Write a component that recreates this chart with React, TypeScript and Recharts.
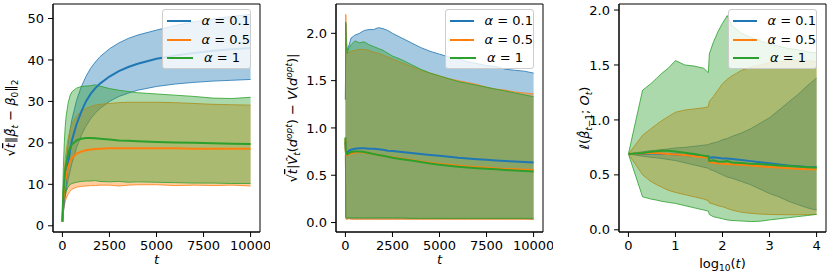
import React from 'react';
import { ComposedChart, Area, Line, XAxis, YAxis, ReferenceArea, Legend } from 'recharts';

const FONT = '"DejaVu Sans", sans-serif';
const ALPHA_LABELS = ['0.1', '0.5', '1'];
const COLORS = ['#1f77b4', '#ff7f0e', '#2ca02c'];

// panel 1: sqrt(t) * ||beta_bar_t - beta_0||_2 against t
const normT = [0, 25, 50, 100, 150, 200, 300, 400, 500, 750, 1000, 1250, 1500, 1750, 2000, 2500, 3000, 3500, 4000, 5000, 6000, 7000, 8000, 9000, 10000];
const normMeanA01 = [1, 3, 4.5, 7, 9, 11.5, 15, 18, 20.5, 24.5, 27.5, 30, 31.8, 33.2, 34.3, 36, 37.3, 38.3, 39.1, 40.3, 41.1, 41.7, 42.2, 42.6, 42.9];
const normHighA01 = [1, 3.5, 5.5, 9, 12, 15, 19.5, 23, 25.5, 30.2, 33.5, 36, 38, 39.5, 40.8, 42.7, 44.1, 45.2, 46, 47.2, 48.3, 49.2, 49.9, 50.5, 51];
const normLowA01 = [1, 2.5, 3.8, 5.5, 7, 8.5, 11, 13, 15, 18.8, 21.8, 24, 25.8, 27.2, 28.3, 30, 31.2, 32, 32.7, 33.6, 34.2, 34.6, 34.9, 35.1, 35.3];
const normMeanA05 = [1, 4, 6, 8.5, 10.5, 12, 14, 15.4, 16.3, 17.4, 17.9, 18.2, 18.4, 18.5, 18.6, 18.7, 18.7, 18.7, 18.7, 18.7, 18.7, 18.6, 18.6, 18.6, 18.6];
const normHighA05 = [1, 6, 9, 13, 16, 18, 21, 23, 24.5, 26.5, 27.6, 28.3, 28.8, 29.1, 29.3, 29.5, 29.7, 29.8, 29.8, 29.8, 29.7, 29.5, 29.3, 29.2, 29.1];
const normLowA05 = [1, 2.5, 3.5, 4.8, 5.8, 6.6, 7.6, 8.3, 8.8, 9.3, 9.5, 9.6, 9.7, 9.7, 9.8, 9.8, 9.6, 9.8, 9.9, 9.9, 9.7, 9.8, 9.7, 9.8, 9.6];
const normMeanA1 = [1, 5, 7.5, 11, 13.5, 15, 17.3, 18.7, 19.6, 20.6, 21, 21.2, 21.2, 21.1, 21, 20.8, 20.6, 20.5, 20.4, 20.2, 20.1, 20, 19.9, 19.8, 19.7];
const normHighA1 = [1, 9, 14, 20, 24, 26.5, 29.5, 31.3, 32.3, 33.2, 33.6, 33.7, 33.8, 34, 33.7, 33.1, 32.7, 32.4, 32.1, 31.8, 31.5, 31.2, 30.8, 30.7, 31];
const normLowA1 = [1, 3, 4.5, 6.3, 7.5, 8.3, 9.3, 9.9, 10.2, 10.5, 10.7, 10.8, 10.8, 10.9, 10.7, 10.6, 10.7, 10.5, 10.6, 10.5, 10.4, 10.3, 10.3, 10.2, 10.2];

// panel 2: sqrt(t) * |V_hat_t(d_opt) - V(d_opt)| against t
const valueT = [0, 20, 50, 100, 200, 300, 500, 750, 1000, 1250, 1500, 1750, 2000, 2250, 2500, 3000, 3500, 4000, 4500, 5000, 5500, 6000, 6500, 7000, 7500, 8000, 8500, 9000, 9500, 10000];
const valueMeanA01 = [0.85, 0.78, 0.74, 0.74, 0.76, 0.77, 0.78, 0.785, 0.785, 0.78, 0.78, 0.775, 0.77, 0.76, 0.755, 0.745, 0.735, 0.725, 0.715, 0.705, 0.695, 0.685, 0.678, 0.67, 0.663, 0.656, 0.65, 0.645, 0.64, 0.634];
const valueHighA01 = [1.3, 2.1, 1.95, 1.82, 1.88, 1.95, 1.98, 2.0, 2.03, 2.04, 2.04, 2.06, 2.05, 2.03, 2.0, 1.95, 1.9, 1.85, 1.81, 1.78, 1.75, 1.73, 1.7, 1.68, 1.66, 1.65, 1.62, 1.61, 1.6, 1.58];
const valueLowA01 = [0.72, 0.05, 0.04, 0.04, 0.045, 0.04, 0.04, 0.04, 0.04, 0.04, 0.04, 0.04, 0.04, 0.04, 0.04, 0.04, 0.04, 0.04, 0.04, 0.04, 0.04, 0.04, 0.04, 0.04, 0.04, 0.04, 0.04, 0.04, 0.04, 0.035];
const valueMeanA05 = [0.88, 0.75, 0.72, 0.71, 0.72, 0.73, 0.74, 0.745, 0.74, 0.735, 0.725, 0.715, 0.705, 0.695, 0.69, 0.675, 0.66, 0.645, 0.632, 0.62, 0.61, 0.6, 0.592, 0.585, 0.578, 0.572, 0.567, 0.562, 0.558, 0.555];
const valueHighA05 = [1.3, 2.2, 1.9, 1.78, 1.8, 1.81, 1.82, 1.83, 1.83, 1.82, 1.8, 1.79, 1.77, 1.75, 1.73, 1.69, 1.65, 1.61, 1.58, 1.55, 1.52, 1.5, 1.48, 1.46, 1.43, 1.41, 1.4, 1.38, 1.37, 1.36];
const valueLowA05 = [0.7, 0.04, 0.035, 0.035, 0.04, 0.035, 0.035, 0.035, 0.035, 0.035, 0.035, 0.035, 0.035, 0.035, 0.035, 0.035, 0.035, 0.035, 0.035, 0.035, 0.035, 0.035, 0.035, 0.035, 0.035, 0.035, 0.035, 0.035, 0.035, 0.035];
const valueMeanA1 = [0.9, 0.76, 0.73, 0.72, 0.735, 0.745, 0.75, 0.75, 0.745, 0.735, 0.725, 0.715, 0.705, 0.695, 0.685, 0.67, 0.655, 0.64, 0.625, 0.612, 0.6, 0.59, 0.582, 0.575, 0.568, 0.562, 0.556, 0.55, 0.545, 0.54];
const valueHighA1 = [1.3, 2.12, 1.85, 1.79, 1.85, 1.88, 1.92, 1.9, 1.91, 1.88, 1.86, 1.84, 1.82, 1.79, 1.76, 1.72, 1.67, 1.62, 1.58, 1.55, 1.52, 1.49, 1.47, 1.45, 1.43, 1.41, 1.39, 1.37, 1.35, 1.33];
const valueLowA1 = [0.75, 0.06, 0.05, 0.05, 0.05, 0.05, 0.05, 0.05, 0.05, 0.05, 0.05, 0.05, 0.05, 0.05, 0.05, 0.05, 0.045, 0.045, 0.045, 0.045, 0.045, 0.045, 0.045, 0.045, 0.045, 0.045, 0.045, 0.045, 0.045, 0.045];

// panel 3: loss l(beta_hat_{t-1}; O_t) against log10(t)
const lossLogT = [0, 0.301, 0.477, 0.602, 0.699, 0.845, 1, 1.2, 1.4, 1.6, 1.7, 1.72, 1.8, 1.9, 2, 2.1, 2.2, 2.4, 2.6, 2.8, 3, 3.2, 3.4, 3.6, 3.8, 4];
const lossMeanA01 = [0.69, 0.69, 0.695, 0.695, 0.69, 0.69, 0.685, 0.68, 0.675, 0.67, 0.668, 0.655, 0.66, 0.655, 0.65, 0.648, 0.645, 0.635, 0.625, 0.615, 0.605, 0.595, 0.585, 0.578, 0.572, 0.568];
const lossHighA01 = [0.69, 0.71, 0.72, 0.725, 0.73, 0.735, 0.745, 0.75, 0.76, 0.77, 0.775, 0.78, 0.79, 0.8, 0.82, 0.83, 0.85, 0.88, 0.92, 0.97, 1.02, 1.09, 1.16, 1.23, 1.31, 1.38];
const lossLowA01 = [0.69, 0.67, 0.66, 0.655, 0.65, 0.64, 0.63, 0.61, 0.59, 0.57, 0.56, 0.55, 0.54, 0.52, 0.5, 0.48, 0.47, 0.44, 0.41, 0.37, 0.33, 0.3, 0.26, 0.23, 0.2, 0.18];
const lossMeanA05 = [0.69, 0.695, 0.7, 0.7, 0.695, 0.69, 0.685, 0.68, 0.67, 0.66, 0.655, 0.615, 0.61, 0.605, 0.6, 0.598, 0.596, 0.592, 0.585, 0.578, 0.572, 0.566, 0.56, 0.556, 0.552, 0.55];
const lossHighA05 = [0.69, 0.86, 0.92, 0.96, 0.99, 1.03, 1.07, 1.09, 1.1, 1.11, 1.12, 1.17, 1.21, 1.27, 1.33, 1.37, 1.4, 1.45, 1.48, 1.5, 1.52, 1.53, 1.54, 1.54, 1.54, 1.53];
const lossLowA05 = [0.69, 0.5, 0.44, 0.41, 0.39, 0.36, 0.34, 0.32, 0.3, 0.28, 0.265, 0.245, 0.235, 0.22, 0.21, 0.195, 0.18, 0.16, 0.15, 0.143, 0.14, 0.138, 0.137, 0.137, 0.138, 0.14];
const lossMeanA1 = [0.69, 0.7, 0.71, 0.715, 0.72, 0.72, 0.712, 0.702, 0.69, 0.675, 0.668, 0.625, 0.632, 0.622, 0.62, 0.625, 0.612, 0.608, 0.6, 0.598, 0.592, 0.585, 0.58, 0.575, 0.57, 0.566];
const lossHighA1 = [0.69, 1.27, 1.33, 1.38, 1.42, 1.47, 1.54, 1.5, 1.49, 1.47, 1.43, 1.6, 1.7, 1.8, 1.88, 1.95, 1.86, 1.79, 1.75, 1.72, 1.69, 1.67, 1.65, 1.64, 1.62, 1.61];
const lossLowA1 = [0.69, 0.3, 0.28, 0.27, 0.26, 0.25, 0.24, 0.22, 0.2, 0.18, 0.17, 0.14, 0.12, 0.11, 0.1, 0.09, 0.085, 0.08, 0.075, 0.078, 0.09, 0.1, 0.11, 0.12, 0.13, 0.14];

const buildRows = (xs: number[], means: number[][], lows: number[][], highs: number[][]) =>
  xs.map((x, i) => {
    const row: any = { x };
    means.forEach((m, k) => {
      row['m' + k] = m[i];
      row['b' + k] = [lows[k][i], highs[k][i]];
    });
    return row;
  });

const normRows = buildRows(normT, [normMeanA01, normMeanA05, normMeanA1], [normLowA01, normLowA05, normLowA1], [normHighA01, normHighA05, normHighA1]);
const valueRows = buildRows(valueT, [valueMeanA01, valueMeanA05, valueMeanA1], [valueLowA01, valueLowA05, valueLowA1], [valueHighA01, valueHighA05, valueHighA1]);
const lossRows = buildRows(lossLogT, [lossMeanA01, lossMeanA05, lossMeanA1], [lossLowA01, lossLowA05, lossLowA1], [lossHighA01, lossHighA05, lossHighA1]);

const PLOT_LEFT = 53;
const PLOT_W = 207;
const PLOT_TOP = 4;
const PLOT_BOTTOM = 232;
const SUB = 9;

function LegendBox() {
  return (
    <div
      style={{
        background: 'rgba(255,255,255,0.8)',
        border: '1px solid #cccccc',
        borderRadius: 3,
        boxSizing: 'border-box',
        width: 89,
        height: 60,
        padding: '2px 0 0 4px',
        fontFamily: FONT,
        fontSize: 13,
        color: '#000',
      }}
    >
      {ALPHA_LABELS.map((a, i) => (
        <div key={a} style={{ display: 'flex', alignItems: 'center', height: 18.5, lineHeight: '18.5px' }}>
          <span style={{ display: 'inline-block', width: 26, height: 2, background: COLORS[i] }} />
          <span style={{ marginLeft: 11, whiteSpace: 'nowrap' }}>
            <i>α</i> = {a}
          </span>
        </div>
      ))}
    </div>
  );
}

const yCenter = (PLOT_TOP + PLOT_BOTTOM) / 2;

function rotated(x: number, children: React.ReactNode) {
  return (
    <text x={x} y={yCenter} transform={`rotate(-90 ${x} ${yCenter})`} textAnchor="middle" fontSize={13} fontFamily={FONT} fill="#000">
      {children}
    </text>
  );
}

const normTitle = () =>
  rotated(
    15,
    <>
      <tspan>√</tspan>
      <tspan fontStyle="italic" textDecoration="overline">t</tspan>
      <tspan>‖</tspan>
      <tspan fontStyle="italic">β̄</tspan>
      <tspan fontStyle="italic" fontSize={SUB} dy={3}>t</tspan>
      <tspan dy={-3}> − </tspan>
      <tspan fontStyle="italic">β</tspan>
      <tspan fontSize={SUB} dy={3}>0</tspan>
      <tspan dy={-3}>‖</tspan>
      <tspan fontSize={SUB} dy={3}>2</tspan>
    </>
  );

const valueTitle = () =>
  rotated(
    14,
    <>
      <tspan>√</tspan>
      <tspan fontStyle="italic" textDecoration="overline">t</tspan>
      <tspan>|</tspan>
      <tspan fontStyle="italic">V̂</tspan>
      <tspan fontStyle="italic" fontSize={SUB} dy={3}>t</tspan>
      <tspan dy={-3}>(</tspan>
      <tspan fontStyle="italic">d</tspan>
      <tspan fontStyle="italic" fontSize={SUB} dy={-5}>opt</tspan>
      <tspan dy={5}>) − </tspan>
      <tspan fontStyle="italic">V</tspan>
      <tspan>(</tspan>
      <tspan fontStyle="italic">d</tspan>
      <tspan fontStyle="italic" fontSize={SUB} dy={-5}>opt</tspan>
      <tspan dy={5}>)|</tspan>
    </>
  );

const lossTitle = () =>
  rotated(
    23,
    <>
      <tspan fontStyle="italic">ℓ</tspan>
      <tspan>(</tspan>
      <tspan fontStyle="italic">β̂</tspan>
      <tspan fontSize={SUB} dy={3}>
        <tspan fontStyle="italic">t</tspan>−1
      </tspan>
      <tspan dy={-3}>; </tspan>
      <tspan fontStyle="italic">O</tspan>
      <tspan fontStyle="italic" fontSize={SUB} dy={3}>t</tspan>
      <tspan dy={-3}>)</tspan>
    </>
  );

const xCenter = PLOT_LEFT + PLOT_W / 2;

const tTitle = () => (
  <text x={xCenter} y={264} textAnchor="middle" fontSize={13} fontFamily={FONT} fontStyle="italic" fill="#000">
    t
  </text>
);

const logTitle = () => (
  <text x={xCenter} y={268} textAnchor="middle" fontSize={13} fontFamily={FONT} fill="#000">
    <tspan>log</tspan>
    <tspan fontSize={SUB} dy={3}>10</tspan>
    <tspan dy={-3}>(</tspan>
    <tspan fontStyle="italic">t</tspan>
    <tspan>)</tspan>
  </text>
);

interface PanelProps {
  left: number;
  width: number;
  rows: any[];
  xDomain: [number, number];
  xTicks: number[];
  yDomain: [number, number];
  yTicks: number[];
  yFmt?: (v: number) => string;
  yTitle: () => React.ReactElement;
  xTitle: () => React.ReactElement;
}

function Panel({ left, width, rows, xDomain, xTicks, yDomain, yTicks, yFmt, yTitle, xTitle }: PanelProps) {
  const tickStyle = { fontSize: 13, fill: '#000', fontFamily: FONT };
  return (
    <div style={{ position: 'absolute', left, top: 0 }}>
      <ComposedChart
        width={width}
        height={277}
        data={rows}
        margin={{ top: PLOT_TOP, right: width - PLOT_LEFT - PLOT_W, bottom: 0, left: 0 }}
      >
        <XAxis
          dataKey="x"
          type="number"
          domain={xDomain}
          ticks={xTicks}
          allowDataOverflow
          interval={0}
          height={277 - PLOT_BOTTOM}
          tick={tickStyle}
          tickLine={{ stroke: '#000' }}
          axisLine={{ stroke: '#000' }}
          tickSize={5}
          tickMargin={4}
          label={{ content: xTitle }}
        />
        <YAxis
          type="number"
          domain={yDomain}
          ticks={yTicks}
          allowDataOverflow
          interval={0}
          width={PLOT_LEFT}
          tick={tickStyle}
          tickLine={{ stroke: '#000' }}
          axisLine={{ stroke: '#000' }}
          tickSize={5}
          tickMargin={4}
          tickFormatter={yFmt}
          label={{ content: yTitle }}
        />
        {COLORS.map((c, i) => (
          <Area
            key={'b' + i}
            dataKey={'b' + i}
            type="linear"
            stroke={c}
            strokeWidth={1}
            strokeOpacity={0.8}
            fill={c}
            fillOpacity={0.4}
            dot={false}
            activeDot={false}
            isAnimationActive={false}
          />
        ))}
        {COLORS.map((c, i) => (
          <Line
            key={'m' + i}
            dataKey={'m' + i}
            type="linear"
            stroke={c}
            strokeWidth={2}
            dot={false}
            activeDot={false}
            isAnimationActive={false}
          />
        ))}
        <ReferenceArea
          x1={xDomain[0]}
          x2={xDomain[1]}
          y1={yDomain[0]}
          y2={yDomain[1]}
          fill="none"
          stroke="#000"
          strokeWidth={1}
          ifOverflow="visible"
        />
        <Legend
          layout="vertical"
          align="center"
          verticalAlign="middle"
          content={() => <LegendBox />}
          wrapperStyle={{ left: 162, top: 9, width: 89 }}
        />
      </ComposedChart>
    </div>
  );
}

const oneDecimal = (v: number) => v.toFixed(1);

export default function App() {
  return (
    <div style={{ position: 'fixed', left: 0, top: 0, width: 830, height: 277, background: '#fff' }}>
      <Panel
        left={0}
        width={270}
        rows={normRows}
        xDomain={[-500, 10500]}
        xTicks={[0, 2500, 5000, 7500, 10000]}
        yDomain={[-1.5, 53.5]}
        yTicks={[0, 10, 20, 30, 40, 50]}
        yTitle={normTitle}
        xTitle={tTitle}
      />
      <Panel
        left={283}
        width={270}
        rows={valueRows}
        xDomain={[-500, 10500]}
        xTicks={[0, 2500, 5000, 7500, 10000]}
        yDomain={[-0.1, 2.31]}
        yTicks={[0, 0.5, 1, 1.5, 2]}
        yFmt={oneDecimal}
        yTitle={valueTitle}
        xTitle={tTitle}
      />
      <Panel
        left={566}
        width={264}
        rows={lossRows}
        xDomain={[-0.2, 4.2]}
        xTicks={[0, 1, 2, 3, 4]}
        yDomain={[-0.02, 2.055]}
        yTicks={[0, 0.5, 1, 1.5, 2]}
        yFmt={oneDecimal}
        yTitle={lossTitle}
        xTitle={logTitle}
      />
    </div>
  );
}
